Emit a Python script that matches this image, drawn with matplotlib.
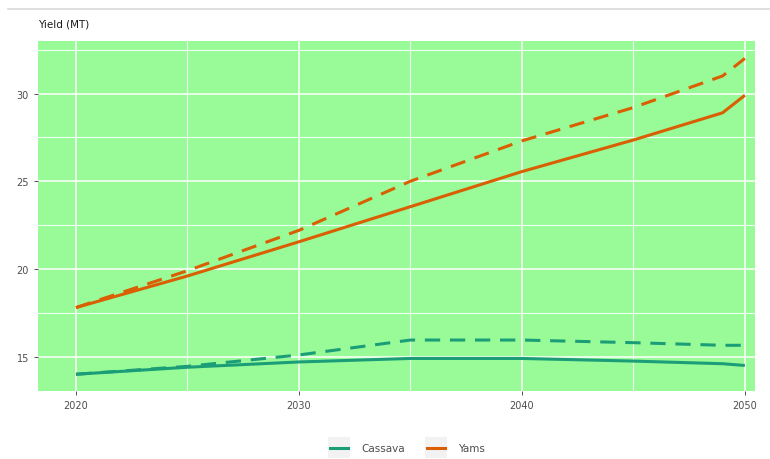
import matplotlib
matplotlib.use("Agg")
import matplotlib.pyplot as plt
from matplotlib.lines import Line2D
from matplotlib.patches import Rectangle

years = [2020, 2025, 2030, 2035, 2040, 2045, 2049, 2050]
cassava_base = [14.0, 14.4, 14.7, 14.9, 14.9, 14.75, 14.6, 14.5]
cassava_alt = [14.0, 14.45, 15.1, 15.95, 15.95, 15.8, 15.65, 15.65]
yams_base = [17.8, 19.6, 21.55, 23.55, 25.55, 27.35, 28.9, 29.9]
yams_alt = [17.8, 19.9, 22.2, 25.0, 27.3, 29.2, 31.0, 32.0]

crops = ["Cassava", "Yams"]
colors = {"Cassava": "#1B9E77", "Yams": "#D95F02"}
x_ticks = [2020, 2030, 2040, 2050]
y_ticks = [15, 20, 25, 30]

W, H = 770, 460
fig = plt.figure(figsize=(7.7, 4.6), dpi=100)
ax = fig.add_axes([0.0494, 0.148, 0.931, 0.761])
ax.set_facecolor("#98FB98")

ax.set_xlim(2018.3, 2050.45)
ax.set_ylim(13.05, 33.0)

for x in [2025, 2035, 2045]:
    ax.axvline(x, color="white", lw=0.8, alpha=0.85, zorder=0)
for y in [17.5, 22.5, 27.5, 32.5]:
    ax.axhline(y, color="white", lw=0.8, alpha=0.85, zorder=0)
for x in x_ticks:
    ax.axvline(x, color="white", lw=1.1, zorder=0)
for y in y_ticks:
    ax.axhline(y, color="white", lw=1.1, zorder=0)

series = {"Cassava": (cassava_base, cassava_alt), "Yams": (yams_base, yams_alt)}
for crop in crops:
    base, alt = series[crop]
    ax.plot(years, base, color=colors[crop], lw=2.2, solid_capstyle="butt")
    ax.plot(years, alt, color=colors[crop], lw=2.2, ls=(0, (5, 3.2)))

ax.set_xticks(x_ticks)
ax.set_yticks(y_ticks)
ax.tick_params(axis="both", labelsize=7, colors="#333333", length=3, width=0.6)
ax.tick_params(axis="both", labelcolor="#4D4D4D")
for s in ax.spines.values():
    s.set_visible(False)

fig.text(0.049, 0.935, "Yield (MT)", fontsize=7.5, color="#1A1A1A", ha="left", va="bottom")

# thin rule at the top of the image
fig.add_artist(Line2D([0.01, 1.0], [0.978, 0.978], color="#D9D9D9", lw=1.2))

# legend drawn by hand so the keys get ggplot's grey boxes
key_x = [328, 425]
text_x = [361, 458]
for crop, kx, tx in zip(crops, key_x, text_x):
    fig.add_artist(Rectangle((kx / W, 1 - 459 / H), 22 / W, 21 / H,
                             transform=fig.transFigure, facecolor="#F2F2F2",
                             edgecolor="none"))
    fig.add_artist(Line2D([(kx + 2) / W, (kx + 20) / W], [1 - 449 / H] * 2,
                          color=colors[crop], lw=2.2))
    fig.text(tx / W, 1 - 449 / H, crop, fontsize=7.5, color="#4D4D4D",
             ha="left", va="center")

fig.savefig("out.png", dpi=100)
